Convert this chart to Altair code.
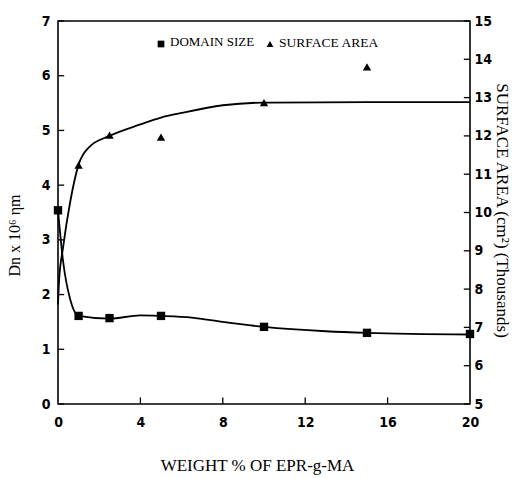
import altair as alt
import pandas as pd

# ---------------- data ----------------
x_ticks = [0, 4, 8, 12, 16, 20]
left_ticks = [0, 1, 2, 3, 4, 5, 6, 7]
right_ticks = [5, 6, 7, 8, 9, 10, 11, 12, 13, 14, 15]

# Domain size (left axis) measured points
dom_x = [0, 1, 2.5, 5, 10, 15, 20]
dom_y = [3.54, 1.61, 1.57, 1.61, 1.41, 1.30, 1.28]
# Domain size drawn curve
dom_curve_x = [0, 0.25, 0.6, 1, 2.5, 4, 5, 6.5, 8, 10, 13, 15, 20]
dom_curve_y = [3.54, 2.6, 1.9, 1.61, 1.56, 1.62, 1.61, 1.58, 1.5, 1.41, 1.33, 1.30, 1.27]

# Surface area (right axis, thousands cm^2) measured points
surf_x = [1, 2.5, 5, 10, 15]
surf_y = [11.24, 12.02, 11.97, 12.87, 13.8]
# Surface area drawn (fitted) curve
surf_curve_x = [0, 0.05, 0.25, 0.6, 1, 1.5, 2.5, 4, 5, 6, 8, 10, 15, 20]
surf_curve_y = [7.6, 8.2, 9.1, 10.3, 11.25, 11.7, 12.0, 12.3, 12.48, 12.6, 12.8, 12.87, 12.88, 12.88]

legend_labels = ["DOMAIN SIZE", "SURFACE AREA"]

# ---------------- frames ----------------
dom_pts = pd.DataFrame({"x": dom_x, "y": dom_y})
dom_line = pd.DataFrame({"x": dom_curve_x, "y": dom_curve_y})
surf_pts = pd.DataFrame({"x": surf_x, "y": surf_y})
surf_line = pd.DataFrame({"x": surf_curve_x, "y": surf_curve_y})
lt = pd.DataFrame({"y": left_ticks, "x0": 0, "x1": 0.3})
rt = pd.DataFrame({"y": right_ticks, "x0": 19.7, "x1": 20})
bt = pd.DataFrame({"x": x_ticks[1:-1], "y0": 0, "y1": 0.12})

NUMFONT = "DejaVu Sans Condensed"
SERIF = "Liberation Serif"

xscale = alt.Scale(domain=[0, 20], nice=False, zero=False)
lscale = alt.Scale(domain=[0, 7], nice=False, zero=False)
rscale = alt.Scale(domain=[5, 15], nice=False, zero=False)

xaxis = alt.Axis(values=x_ticks, format="d", ticks=False, tickSize=0, domain=False, grid=False,
                 labelFont=NUMFONT, labelFontSize=14, labelFontWeight="bold",
                 labelColor="black", labelPadding=11, labelFlush=False, labelOverlap=False,
                 title="WEIGHT % OF EPR-g-MA", titleFont=SERIF, titleFontSize=17,
                 titleFontWeight="normal", titleColor="black",
                 titleX=199, titleY=61, titleAlign="center", titleBaseline="middle")

laxis = alt.Axis(values=left_ticks, format="d", ticks=False, tickSize=0, domain=False, grid=False,
                 labelFont=NUMFONT, labelFontSize=14, labelFontWeight="bold",
                 labelColor="black", labelPadding=8, labelFlush=False, labelOverlap=False,
                 title="Dn x 10⁶ ηm", titleFont=SERIF, titleFontSize=16,
                 titleFontWeight="normal", titleColor="black", titleAngle=270,
                 titleX=-44, titleY=214, titleAlign="center", titleBaseline="middle")

raxis = alt.Axis(orient="right", values=right_ticks, tickCount=11, format="d", ticks=False,
                 tickSize=0, domain=False, grid=False, labelFont=NUMFONT, labelFontSize=14,
                 labelFontWeight="bold", labelColor="black", labelPadding=4,
                 labelFlush=False, labelOverlap=False,
                 title="SURFACE AREA (cm²) (Thousands)", titleFont=SERIF, titleFontSize=17,
                 titleFontWeight="normal", titleColor="black", titleAngle=90,
                 titleX=31, titleY=189, titleAlign="center", titleBaseline="middle")

# ---------------- left layer ----------------
l_line = alt.Chart(dom_line).mark_line(color="black", strokeWidth=1.8, interpolate="monotone").encode(
    x=alt.X("x:Q", scale=xscale, axis=xaxis),
    y=alt.Y("y:Q", scale=lscale, axis=laxis),
)
l_pts = alt.Chart(dom_pts).mark_point(shape="square", filled=True, color="black", size=70, opacity=1).encode(
    x=alt.X("x:Q", scale=xscale, axis=xaxis), y=alt.Y("y:Q", scale=lscale, axis=laxis))
l_ticks = alt.Chart(lt).mark_rule(color="black", strokeWidth=1.3).encode(
    x=alt.X("x0:Q", scale=xscale, axis=xaxis), x2="x1:Q", y=alt.Y("y:Q", scale=lscale, axis=laxis))
b_ticks = alt.Chart(bt).mark_rule(color="black", strokeWidth=1.3).encode(
    x=alt.X("x:Q", scale=xscale, axis=xaxis), y=alt.Y("y0:Q", scale=lscale, axis=laxis), y2="y1:Q")

leg_df = pd.DataFrame({"label": legend_labels})
leg_txt1 = alt.Chart(leg_df).transform_filter(alt.datum.label == legend_labels[0]).mark_text(
    align="left", baseline="middle", font=SERIF, fontSize=13, color="black").encode(
    x=alt.value(112), y=alt.value(21), text="label:N")
leg_txt2 = alt.Chart(leg_df).transform_filter(alt.datum.label == legend_labels[1]).mark_text(
    align="left", baseline="middle", font=SERIF, fontSize=13.5, color="black").encode(
    x=alt.value(221), y=alt.value(22), text="label:N")
leg_m1 = alt.Chart(leg_df).transform_filter(alt.datum.label == legend_labels[0]).mark_point(
    shape="square", filled=True, color="black", size=45, opacity=1).encode(
    x=alt.value(103), y=alt.value(23))
leg_m2 = alt.Chart(leg_df).transform_filter(alt.datum.label == legend_labels[1]).mark_point(
    shape="triangle-up", filled=True, color="black", size=45, opacity=1).encode(
    x=alt.value(212), y=alt.value(23))

left = alt.layer(l_line, l_pts, l_ticks, b_ticks, leg_txt1, leg_txt2, leg_m1, leg_m2)

# ---------------- right layer ----------------
r_line = alt.Chart(surf_line).mark_line(color="black", strokeWidth=1.8, interpolate="monotone").encode(
    x=alt.X("x:Q", scale=xscale, axis=xaxis),
    y=alt.Y("y:Q", scale=rscale, axis=raxis),
)
r_pts = alt.Chart(surf_pts).mark_point(shape="triangle-up", filled=True, color="black", size=70, opacity=1).encode(
    x=alt.X("x:Q", scale=xscale, axis=xaxis), y=alt.Y("y:Q", scale=rscale, axis=raxis))
r_ticks = alt.Chart(rt).mark_rule(color="black", strokeWidth=1.3).encode(
    x=alt.X("x0:Q", scale=xscale, axis=xaxis), x2="x1:Q", y=alt.Y("y:Q", scale=rscale, axis=raxis))

right = alt.layer(r_line, r_pts, r_ticks)

chart = alt.layer(left, right).resolve_scale(y="independent").properties(
    width=412, height=383,
    autosize=alt.AutoSizeParams(type="none"),
    padding={"left": 58, "top": 21, "right": 51, "bottom": 74},
    background="white",
).configure_view(stroke="black", strokeWidth=1.6)

chart.save("out.html", embed_options={"renderer": "svg", "actions": False})
